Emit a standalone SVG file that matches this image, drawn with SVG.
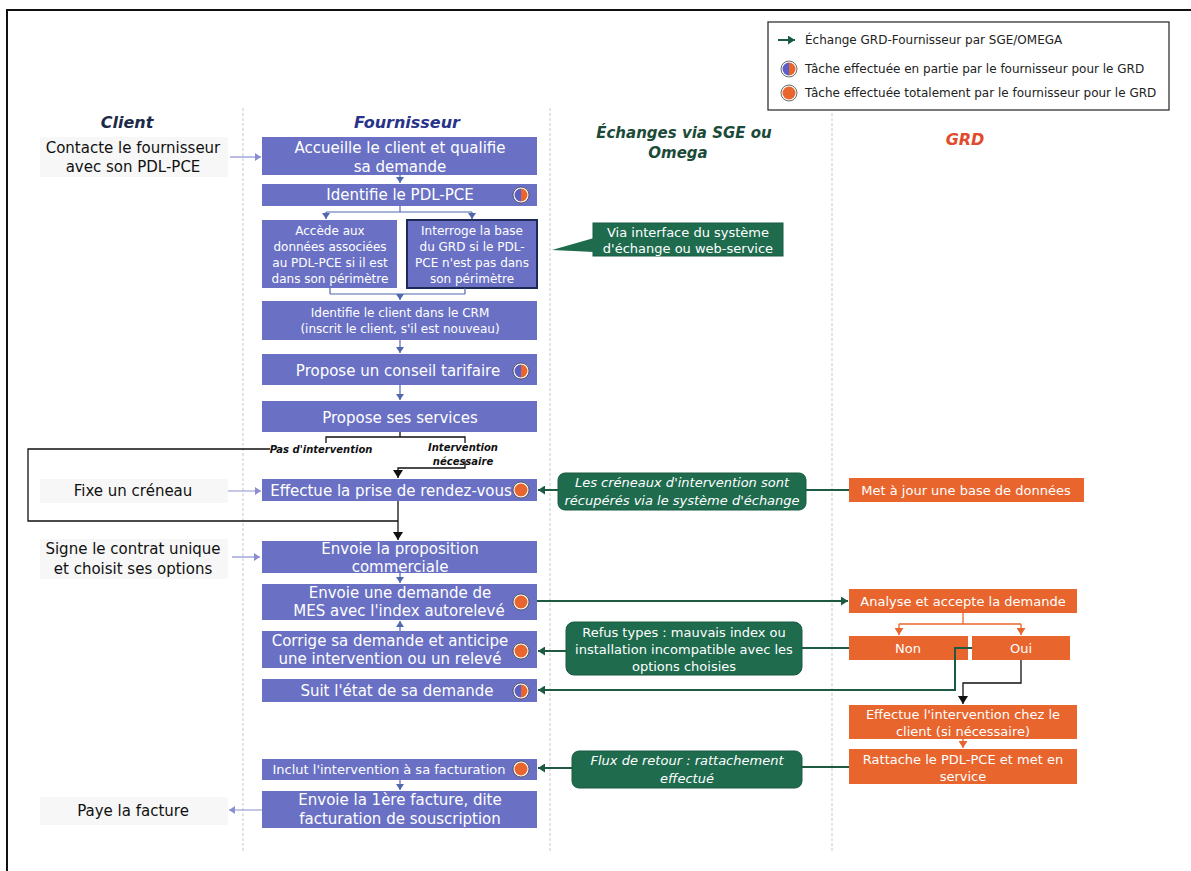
<svg xmlns="http://www.w3.org/2000/svg" xmlns:xlink="http://www.w3.org/1999/xlink" width="1191" height="871" viewBox="0 0 1191 871">
<style>
text{font-family:"DejaVu Sans","Liberation Sans",sans-serif}
.hd{font-weight:bold;font-style:italic;font-size:16px;text-anchor:middle}
.cl{font-size:15px;fill:#111;text-anchor:middle}
.fb{fill:#6a71c4}
.ft{fill:#fff;text-anchor:middle;font-size:15px}
.fs{fill:#fff;text-anchor:middle;font-size:12px}
.gb{fill:#e8652e}
.gt{fill:#fff;text-anchor:middle;font-size:13px}
.cb{fill:#1e6b4e;stroke:#1a5a42;stroke-width:1}
.ct{fill:#fff;text-anchor:middle;font-size:13px}
.it{font-style:italic}
.lg{font-size:12px;fill:#222}
.sep{stroke:#c9c9c9;stroke-width:1;stroke-dasharray:3 2;fill:none}
.bl{stroke:#4f68b0;stroke-width:1.2;fill:none}
.pl{stroke:#8a8fd2;stroke-width:1.2;fill:none}
.bk{stroke:#111;stroke-width:1.3;fill:none}
.gr{stroke:#1d5a42;stroke-width:2;fill:none}
.or{stroke:#e8652e;stroke-width:1.3;fill:none}
.lbl{font-weight:bold;font-style:italic;font-size:10px;fill:#111;text-anchor:middle}
.cbg{fill:#f7f7f7}
</style>
<defs>
<marker id="mBl" markerWidth="8" markerHeight="8" refX="6" refY="4" orient="auto" markerUnits="userSpaceOnUse"><path d="M0,0 L6,4 L0,8 Z" fill="#4f68b0"/></marker>
<marker id="mPl" markerWidth="8" markerHeight="8" refX="6" refY="4" orient="auto" markerUnits="userSpaceOnUse"><path d="M0,0 L6,4 L0,8 Z" fill="#8a8fd2"/></marker>
<marker id="mBk" markerWidth="10" markerHeight="10" refX="8" refY="5" orient="auto" markerUnits="userSpaceOnUse"><path d="M0,0 L8,5 L0,10 Z" fill="#111"/></marker>
<marker id="mGr" markerWidth="9" markerHeight="9" refX="7" refY="4.5" orient="auto" markerUnits="userSpaceOnUse"><path d="M0,0 L7,4.5 L0,9 Z" fill="#1d5a42"/></marker>
<marker id="mOr" markerWidth="9" markerHeight="9" refX="7" refY="4.5" orient="auto" markerUnits="userSpaceOnUse"><path d="M0,0 L7,4.5 L0,9 Z" fill="#e8652e"/></marker>
<g id="iconHalf"><circle r="8" fill="#fff" stroke="#444" stroke-width="0.8"/><path d="M0,-6.5 A6.5,6.5 0 0 0 0,6.5 Z" fill="#5a5ec6"/><path d="M0,-6.5 A6.5,6.5 0 0 1 0,6.5 Z" fill="#e8652e"/></g>
<g id="iconFull"><circle r="8" fill="#fff" stroke="#444" stroke-width="0.8"/><circle r="6.5" fill="#e8652e"/></g>
</defs>
<rect width="1191" height="871" fill="#fff"/>
<path d="M6,10 H1191 M7,10 V871" stroke="#111" stroke-width="2" fill="none"/>
<g id="separators">
<line class="sep" x1="243" y1="108" x2="243" y2="852"/>
<line class="sep" x1="550" y1="108" x2="550" y2="852"/>
<line class="sep" x1="832" y1="108" x2="832" y2="852"/>
</g>
<g id="legend">
<rect x="768" y="22" width="401" height="88" fill="#fff" stroke="#333" stroke-width="1.3"/>
<line x1="778" y1="40" x2="795" y2="40" stroke="#1d5a42" stroke-width="2" marker-end="url(#mGr)"/>
<text class="lg" x="805" y="44">Échange GRD-Fournisseur  par SGE/OMEGA</text>
<use xlink:href="#iconHalf" x="789" y="69"/>
<text class="lg" x="805" y="73">Tâche effectuée en partie par le fournisseur pour le GRD</text>
<use xlink:href="#iconFull" x="789" y="93"/>
<text class="lg" x="805" y="97">Tâche effectuée totalement par le fournisseur pour le GRD</text>
</g>
<g id="headers">
<text class="hd" x="127" y="128" fill="#1c2a47">Client</text>
<text class="hd" x="407" y="128" fill="#28338a">Fournisseur</text>
<text class="hd" x="684" y="138" fill="#1c4a39" style="font-size:15px">Échanges via SGE ou</text>
<text class="hd" x="678" y="158" fill="#1c4a39" style="font-size:15px">Omega</text>
<text class="hd" x="965" y="145" fill="#e24a2b">GRD</text>
</g>
<g id="client">
<g id="c1"><rect class="cbg" x="40" y="137" width="188" height="40"/><text class="cl" x="133" y="153">Contacte le fournisseur</text><text class="cl" x="133" y="172">avec son PDL-PCE</text></g>
<g id="c2"><rect class="cbg" x="40" y="479" width="188" height="24"/><text class="cl" x="133" y="496">Fixe un créneau</text></g>
<g id="c3"><rect class="cbg" x="40" y="539" width="188" height="40"/><text class="cl" x="133" y="554">Signe le contrat unique</text><text class="cl" x="133" y="574">et choisit ses options</text></g>
<g id="c4"><rect class="cbg" x="40" y="797" width="188" height="28"/><text class="cl" x="133" y="816">Paye la facture</text></g>
</g>
<g id="fournisseur">
<g id="f1"><rect class="fb" x="262" y="137" width="275" height="38"/><text class="ft" x="400" y="153">Accueille le client et qualifie</text><text class="ft" x="400" y="172">sa demande</text></g>
<g id="f2"><rect class="fb" x="262" y="184" width="275" height="22"/><text class="ft" x="400" y="200">Identifie le PDL-PCE</text><use xlink:href="#iconHalf" x="521" y="195"/></g>
<g id="f3a"><rect class="fb" x="262" y="220" width="135" height="68"/><text class="fs" x="330" y="235">Accède aux</text><text class="fs" x="330" y="251">données associées</text><text class="fs" x="330" y="267">au PDL-PCE si il est</text><text class="fs" x="330" y="283">dans son périmètre</text></g>
<g id="f3b"><rect class="fb" x="407" y="220" width="130" height="68" stroke="#1d2a55" stroke-width="2"/><text class="fs" x="472" y="235">Interroge la base</text><text class="fs" x="472" y="251">du GRD si le PDL-</text><text class="fs" x="472" y="267">PCE n'est pas dans</text><text class="fs" x="472" y="283">son périmètre</text></g>
<g id="f4"><rect class="fb" x="262" y="301" width="275" height="39"/><text class="fs" x="400" y="317">Identifie le client dans le CRM</text><text class="fs" x="400" y="333">(inscrit le client, s'il est nouveau)</text></g>
<g id="f5"><rect class="fb" x="262" y="354" width="275" height="31"/><text class="ft" x="398" y="376">Propose un conseil tarifaire</text><use xlink:href="#iconHalf" x="521" y="371"/></g>
<g id="f6"><rect class="fb" x="262" y="401" width="275" height="31"/><text class="ft" x="400" y="423">Propose ses services</text></g>
<g id="f7"><rect class="fb" x="262" y="479" width="275" height="22"/><text class="ft" x="391" y="496">Effectue la prise de rendez-vous</text><use xlink:href="#iconFull" x="521" y="490"/></g>
<g id="f8"><rect class="fb" x="262" y="541" width="275" height="32"/><text class="ft" x="400" y="554">Envoie la proposition</text><text class="ft" x="400" y="572">commerciale</text></g>
<g id="f9"><rect class="fb" x="262" y="584" width="275" height="36"/><text class="ft" x="400" y="598">Envoie une demande de</text><text class="ft" x="399" y="616">MES avec l'index autorelevé</text><use xlink:href="#iconFull" x="521" y="602"/></g>
<g id="f10"><rect class="fb" x="262" y="631" width="275" height="37"/><text class="ft" x="390" y="646">Corrige sa demande et anticipe</text><text class="ft" x="390" y="664">une intervention ou un relevé</text><use xlink:href="#iconFull" x="521" y="651"/></g>
<g id="f11"><rect class="fb" x="262" y="679" width="275" height="23"/><text class="ft" x="397" y="696">Suit l'état de sa demande</text><use xlink:href="#iconHalf" x="521" y="691"/></g>
<g id="f12"><rect class="fb" x="262" y="759" width="275" height="21"/><text class="ft" x="389" y="774" style="font-size:13px">Inclut l'intervention  à sa facturation</text><use xlink:href="#iconFull" x="521" y="769"/></g>
<g id="f13"><rect class="fb" x="262" y="791" width="275" height="37"/><text class="ft" x="400" y="805">Envoie la 1ère facture, dite</text><text class="ft" x="400" y="824">facturation de souscription</text></g>
</g>
<g id="exchanges">
<g id="e1"><rect class="cb" x="593" y="223" width="190" height="33"/><polygon points="594,238 552,250 594,252" fill="#1e6b4e"/><text class="ct" x="688" y="237">Via interface du système</text><text class="ct" x="688" y="253">d'échange ou web-service</text></g>
<g id="e2"><rect class="cb" x="558" y="473" width="248" height="37" rx="7"/><text class="ct it" x="682" y="487">Les créneaux d'intervention  sont</text><text class="ct it" x="682" y="505">récupérés via le système d'échange</text></g>
<g id="e3"><rect class="cb" x="566" y="622" width="236" height="53" rx="8"/><text class="ct" x="684" y="637">Refus types : mauvais index ou</text><text class="ct" x="684" y="654">installation  incompatible  avec les</text><text class="ct" x="684" y="671">options  choisies</text></g>
<g id="e4"><rect class="cb" x="572" y="751" width="230" height="37" rx="7"/><text class="ct it" x="687" y="765">Flux de retour : rattachement</text><text class="ct it" x="687" y="783">effectué</text></g>
</g>
<g id="grd">
<g id="g1"><rect class="gb" x="849" y="478" width="235" height="24"/><text class="gt" x="966" y="495">Met à jour une base de données</text></g>
<g id="g2"><rect class="gb" x="849" y="589" width="228" height="24"/><text class="gt" x="963" y="606">Analyse et accepte la demande</text></g>
<g id="g3"><rect class="gb" x="849" y="636" width="119" height="24"/><text class="gt" x="908" y="653">Non</text></g>
<g id="g4"><rect class="gb" x="972" y="636" width="98" height="24"/><text class="gt" x="1021" y="653">Oui</text></g>
<g id="g5"><rect class="gb" x="849" y="705" width="228" height="34"/><text class="gt" x="963" y="719">Effectue l'intervention  chez le</text><text class="gt" x="963" y="736">client  (si nécessaire)</text></g>
<g id="g6"><rect class="gb" x="849" y="749" width="228" height="35"/><text class="gt" x="963" y="764">Rattache le PDL-PCE  et met en</text><text class="gt" x="963" y="781">service</text></g>
</g>
<g id="connectors">
<path class="pl" d="M230,157 H261" marker-end="url(#mPl)"/>
<path class="pl" d="M228,491 H261" marker-end="url(#mPl)"/>
<path class="pl" d="M232,557 H260" marker-end="url(#mPl)"/>
<path class="pl" d="M262,810 H229" marker-end="url(#mPl)"/>
<path class="bl" d="M400,175 V183" marker-end="url(#mBl)"/>
<path class="bl" d="M400,206 V212 M326,212 H472"/>
<path class="bl" d="M326,212 V219" marker-end="url(#mBl)"/>
<path class="bl" d="M472,212 V219" marker-end="url(#mBl)"/>
<path class="bl" d="M330,288 V294 M465,288 V294 M330,294 H465"/>
<path class="bl" d="M400,294 V300" marker-end="url(#mBl)"/>
<path class="bl" d="M400,340 V353" marker-end="url(#mBl)"/>
<path class="bl" d="M400,385 V400" marker-end="url(#mBl)"/>
<path class="bl" d="M400,573 V583" marker-end="url(#mBl)"/>
<path class="bl" d="M400,631 V621" marker-end="url(#mBl)"/>
<path class="bl" d="M400,780 V790" marker-end="url(#mBl)"/>
<path class="bk" d="M400,432 V437 M326,443 V437 H465 V443"/>
<text class="lbl" x="321" y="453">Pas d'intervention</text>
<text class="lbl" x="463" y="451">Intervention</text>
<text class="lbl" x="463" y="465">nécessaire</text>
<path class="bk" d="M270,449 H28 V521 H398"/>
<path class="bk" d="M465,461 V468 H398 V478" marker-end="url(#mBk)"/>
<path class="bk" d="M398,501 V540" marker-end="url(#mBk)"/>
<path class="gr" d="M849,490 H806"/>
<path class="gr" d="M558,490 H538" marker-end="url(#mGr)"/>
<path class="gr" d="M537,601 H848" marker-end="url(#mGr)"/>
<path class="gr" d="M849,648 H802"/>
<path class="gr" d="M566,651 H538" marker-end="url(#mGr)"/>
<path class="gr" d="M972,648 H955 V690 H538" marker-end="url(#mGr)"/>
<path class="bk" d="M1021,660 V683 H963 V704" marker-end="url(#mBk)"/>
<path class="gr" d="M849,767 H802"/>
<path class="gr" d="M572,768 H538" marker-end="url(#mGr)"/>
<path class="or" d="M963,613 V624 M899,624 H1021"/>
<path class="or" d="M899,624 V635" marker-end="url(#mOr)"/>
<path class="or" d="M1021,624 V635" marker-end="url(#mOr)"/>
<path class="or" d="M963,739 V748" marker-end="url(#mOr)"/>
</g>
</svg>
